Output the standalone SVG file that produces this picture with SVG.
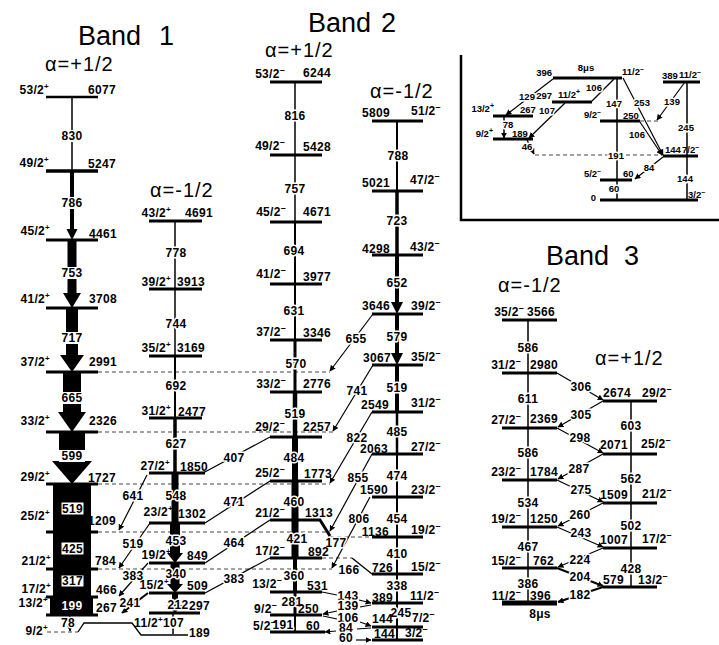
<svg xmlns="http://www.w3.org/2000/svg" width="719" height="645" viewBox="0 0 719 645">
<defs>
<marker id="a" viewBox="0 0 10 10" refX="9" refY="5" markerWidth="6" markerHeight="6" orient="auto" markerUnits="userSpaceOnUse"><path d="M0,0 L10,5 L0,10 z"/></marker>
<style>
.lv{stroke:#000;stroke-width:3;fill:none}
.tr{stroke:#000;fill:none;stroke-width:1.5}
.cn{stroke:#000;fill:none;stroke-width:1.2}
.ds{stroke:#444;stroke-width:1;stroke-dasharray:4 3;fill:none}
text{font-family:"Liberation Sans",Arial,sans-serif}
.t{font-weight:bold;font-size:12px;letter-spacing:0.3px}
.i{font-weight:bold;font-size:9.5px}
.h{stroke:#fff;stroke-width:3;paint-order:stroke;stroke-linejoin:round}
.m{text-anchor:middle}
.e{text-anchor:end}
.ti{font-size:27px}
.al{font-size:20px;letter-spacing:1px}
</style>
</defs>
<rect width="719" height="645" fill="#fff"/>

<g id="titles">
<text class="ti" x="78" y="45">Band</text><text class="ti" x="159" y="45">1</text>
<text class="ti" x="308" y="32">Band</text><text class="ti" x="381" y="32">2</text>
<text class="ti" x="546" y="265">Band</text><text class="ti" x="624" y="265">3</text>
<text class="al" x="45" y="71">α=+1/2</text>
<text class="al" x="150" y="197">α=-1/2</text>
<text class="al" x="265" y="57">α=+1/2</text>
<text class="al" x="370" y="98">α=-1/2</text>
<text class="al" x="498" y="292">α=-1/2</text>
<text class="al" x="595" y="365">α=+1/2</text>
</g>

<g id="dashes">
<path class="ds" d="M98,372H330M98,432H333M98,484H330M98,532H330M98,569H332M330,537H372M322,558H352M47,632H78"/>
<path class="ds" d="M535,155H663M640,121H660"/>
</g>

<g id="connectors">
<!-- Band 1 a+ -->
<line class="tr" x1="72" y1="97" x2="72" y2="171"/>
<polygon points="70,172 74,172 74,229 77.5,229 72,240 66.5,229 70,229"/>
<polygon points="67.5,241 76.5,241 76.5,293 81,293 72,308 63,293 67.5,293"/>
<polygon points="66,309 78,309 78,355 84,355 72,372 60,355 66,355"/>
<polygon points="63,373 81,373 81,412 86,412 72,432 58,412 63,412"/>
<polygon points="59,433 85,433 85,461 92,461 72,484 52,461 59,461"/>
<rect x="53" y="485" width="38" height="46"/>
<rect x="53" y="533" width="38" height="35"/>
<rect x="53" y="570" width="38" height="26"/>
<rect x="50" y="598" width="43" height="16"/>
<line class="tr" x1="70" y1="616" x2="70" y2="631" marker-end="url(#a)"/>
<g fill="#fff"><rect x="59" y="130" width="26" height="12"/><rect x="59" y="197" width="26" height="12"/><rect x="59" y="267" width="26" height="12"/><rect x="59" y="332" width="26" height="12"/><rect x="59" y="392" width="26" height="12"/><rect x="59" y="450" width="26" height="12"/></g>
<g fill="#fff" stroke="#000" stroke-width="1"><rect x="61" y="502" width="23" height="13"/><rect x="61" y="542" width="23" height="13"/><rect x="61" y="575" width="23" height="12"/></g>
<text class="t m" x="72" y="140">830</text>
<text class="t m" x="72" y="207">786</text>
<text class="t m" x="72" y="277">753</text>
<text class="t m" x="72" y="342">717</text>
<text class="t m" x="72" y="402">665</text>
<text class="t m" x="72" y="460">599</text>
<text class="t m" x="72.5" y="513">519</text>
<text class="t m" x="72.5" y="553">425</text>
<text class="t m" x="72.5" y="585">317</text>
<text class="t m" x="72" y="610" fill="#fff">199</text>
<text class="t m h" x="68" y="627">78</text>
<!-- Band 1 a- -->
<line class="tr" x1="175" y1="221" x2="175" y2="289"/>
<line class="tr" x1="175" y1="289" x2="175" y2="356"/>
<line class="tr" x1="175" y1="356" x2="175" y2="418" style="stroke-width:2"/>
<line class="tr" x1="175" y1="418" x2="175" y2="473" style="stroke-width:3.5"/>
<polygon points="171.5,473 178.5,473 178.5,523 171.5,523"/>
<polygon points="170,524 180,524 180,553 183,553 175,563 167,553 170,553"/>
<polygon points="170.5,564 179.5,564 179.5,584 183,584 175,593 167,584 170.5,584"/>
<polygon points="172,594 178,594 178,605 183,605 175,613 167,605 172,605"/>
<line class="tr" x1="173" y1="614" x2="173" y2="634"/>
<text class="t m h" x="176" y="257">778</text>
<text class="t m h" x="176" y="328">744</text>
<text class="t m h" x="176" y="390">692</text>
<text class="t m h" x="176" y="448">627</text>
<text class="t m h" x="176" y="500">548</text>
<text class="t m h" x="176" y="545">453</text>
<text class="t m h" x="176" y="578">340</text>
<text class="t m h" x="178" y="609">212</text>
<text class="t h" x="163" y="627">107</text>
<!-- Band 2 a+ -->
<line class="tr" x1="295" y1="82" x2="295" y2="155"/>
<line class="tr" x1="295" y1="155" x2="295" y2="222"/>
<line class="tr" x1="295" y1="222" x2="295" y2="284" style="stroke-width:2"/>
<line class="tr" x1="295" y1="284" x2="295" y2="340" style="stroke-width:2"/>
<line class="tr" x1="295" y1="340" x2="295" y2="392" style="stroke-width:3"/>
<line class="tr" x1="295" y1="392" x2="295" y2="437" style="stroke-width:4.5"/>
<line class="tr" x1="295" y1="437" x2="295" y2="481" style="stroke-width:6"/>
<line class="tr" x1="295" y1="481" x2="295" y2="520" style="stroke-width:7"/>
<line class="tr" x1="295" y1="520" x2="295" y2="558" style="stroke-width:7"/>
<line class="tr" x1="295" y1="558" x2="295" y2="592" style="stroke-width:4"/>
<line class="tr" x1="295" y1="592" x2="295" y2="615" style="stroke-width:3"/>
<line class="tr" x1="295" y1="615" x2="295" y2="632" style="stroke-width:2"/>
<text class="t m h" x="295" y="120">816</text>
<text class="t m h" x="295" y="193">757</text>
<text class="t m h" x="294" y="255">694</text>
<text class="t m h" x="294" y="315">631</text>
<text class="t m h" x="296" y="368">570</text>
<text class="t m h" x="295" y="418">519</text>
<text class="t m h" x="294" y="462">484</text>
<text class="t m h" x="294" y="506">460</text>
<text class="t m h" x="297" y="543">421</text>
<text class="t m h" x="294" y="580">360</text>
<text class="t m h" x="292" y="606">281</text>
<text class="t m h" x="283" y="629">191</text>
<!-- Band 2 a- -->
<line class="tr" x1="397" y1="121" x2="397" y2="191" style="stroke-width:2"/>
<line class="tr" x1="397" y1="191" x2="397" y2="255" style="stroke-width:3.5"/>
<line class="tr" x1="397" y1="255" x2="397" y2="304" style="stroke-width:4"/>
<polygon points="391,302 403,302 397,314"/>
<line class="tr" x1="397" y1="314" x2="397" y2="355" style="stroke-width:4"/>
<polygon points="391,353 403,353 397,365"/>
<line class="tr" x1="397" y1="365" x2="397" y2="412" style="stroke-width:4"/>
<line class="tr" x1="397" y1="412" x2="397" y2="454" style="stroke-width:2.5"/>
<line class="tr" x1="397" y1="454" x2="397" y2="497" style="stroke-width:2"/>
<line class="tr" x1="397" y1="497" x2="397" y2="537" style="stroke-width:2"/>
<line class="tr" x1="397" y1="537" x2="397" y2="574" style="stroke-width:2"/>
<line class="tr" x1="397" y1="574" x2="397" y2="603" style="stroke-width:2"/>
<line class="tr" x1="397" y1="603" x2="397" y2="627" style="stroke-width:2"/>
<line class="tr" x1="397" y1="627" x2="397" y2="640" style="stroke-width:2"/>
<text class="t m h" x="398" y="160">788</text>
<text class="t m h" x="397" y="225">723</text>
<text class="t m h" x="397" y="287">652</text>
<text class="t m h" x="397" y="341">579</text>
<text class="t m h" x="397" y="392">519</text>
<text class="t m h" x="397" y="436">485</text>
<text class="t m h" x="397" y="480">474</text>
<text class="t m h" x="397" y="523">454</text>
<text class="t m h" x="397" y="558">410</text>
<text class="t m h" x="397" y="590">338</text>
<text class="t m h" x="401" y="617">245</text>
<!-- Band 3 -->
<path class="tr" d="M528,320V373M528,373V428M528,428V480M528,480V527M528,527V568M528,568V603M631,401V454M631,454V503M631,503V548M631,548V587"/>
<text class="t m h" x="528" y="352">586</text>
<text class="t m h" x="528" y="403">611</text>
<text class="t m h" x="528" y="457">586</text>
<text class="t m h" x="528" y="507">534</text>
<text class="t m h" x="528" y="551">467</text>
<text class="t m h" x="528" y="588">386</text>
<text class="t m h" x="631" y="430">603</text>
<text class="t m h" x="631" y="483">562</text>
<text class="t m h" x="631" y="530">502</text>
<text class="t m h" x="631" y="573">428</text>
<g class="cn">
<line x1="557" y1="373" x2="603" y2="400" marker-end="url(#a)"/>
<line x1="603" y1="401" x2="558" y2="427" marker-end="url(#a)"/>
<line x1="557" y1="428" x2="603" y2="453" marker-end="url(#a)"/>
<line x1="603" y1="454" x2="558" y2="479" marker-end="url(#a)"/>
<line x1="557" y1="480" x2="603" y2="502" marker-end="url(#a)"/>
<line x1="603" y1="503" x2="558" y2="526" marker-end="url(#a)"/>
<line x1="557" y1="527" x2="603" y2="547" marker-end="url(#a)"/>
<line x1="603" y1="548" x2="558" y2="567" marker-end="url(#a)"/>
<line x1="557" y1="568" x2="603" y2="586" marker-end="url(#a)" style="stroke-width:2"/>
<line x1="603" y1="587" x2="558" y2="602" marker-end="url(#a)" style="stroke-width:2"/>
</g>
<text class="t m h" x="581" y="391">306</text>
<text class="t m h" x="581" y="419">305</text>
<text class="t m h" x="580" y="442">298</text>
<text class="t m h" x="579" y="473">287</text>
<text class="t m h" x="581" y="494">275</text>
<text class="t m h" x="580" y="519">260</text>
<text class="t m h" x="581" y="537">243</text>
<text class="t m h" x="580" y="564">224</text>
<text class="t m h" x="580" y="581">204</text>
<text class="t m h" x="580" y="599">182</text>
<!-- inter-band -->
<g class="cn">
<line x1="147" y1="475" x2="119" y2="530" marker-end="url(#a)"/>
<line x1="150" y1="523" x2="119" y2="568" marker-end="url(#a)"/>
<line x1="148" y1="563" x2="119" y2="596" marker-end="url(#a)"/>
<line x1="148" y1="593" x2="122" y2="613" marker-end="url(#a)" style="stroke-width:2"/>
<line x1="203" y1="473" x2="270" y2="437"/>
<line x1="205" y1="523" x2="270" y2="481"/>
<line x1="205" y1="563" x2="270" y2="520"/>
<line x1="205" y1="593" x2="270" y2="558"/>
<line x1="373" y1="314" x2="330" y2="371" marker-end="url(#a)"/>
<line x1="373" y1="365" x2="333" y2="431" marker-end="url(#a)"/>
<line x1="372" y1="412" x2="330" y2="483" marker-end="url(#a)"/>
<line x1="372" y1="454" x2="330" y2="531" marker-end="url(#a)"/>
<line x1="370" y1="497" x2="332" y2="568" marker-end="url(#a)"/>
<polyline points="322,592 337,595"/>
<line x1="359" y1="600" x2="371" y2="603" marker-end="url(#a)"/>
<line x1="371" y1="605" x2="360" y2="607"/>
<line x1="337" y1="611" x2="323" y2="614" marker-end="url(#a)"/>
<line x1="323" y1="616" x2="337" y2="619"/>
<line x1="360" y1="622" x2="371" y2="626" marker-end="url(#a)"/>
<line x1="371" y1="628" x2="357" y2="629"/>
<line x1="336" y1="631" x2="325" y2="632" marker-end="url(#a)"/>
<line x1="356" y1="640" x2="371" y2="640" marker-end="url(#a)"/>
</g>
<text class="t m h" x="133" y="500">641</text>
<text class="t m h" x="133" y="548">519</text>
<text class="t m h" x="133" y="580">383</text>
<text class="t m h" x="130" y="607">241</text>
<text class="t m h" x="234" y="462">407</text>
<text class="t m h" x="234" y="506">471</text>
<text class="t m h" x="234" y="547">464</text>
<text class="t m h" x="234" y="583">383</text>
<text class="t m h" x="356" y="343">655</text>
<text class="t m h" x="357" y="395">741</text>
<text class="t m h" x="357" y="442">822</text>
<text class="t m h" x="358" y="482">855</text>
<text class="t m h" x="359" y="523">806</text>
<text class="t m h" x="336" y="547">177</text>
<text class="t m h" x="349" y="574">166</text>
<text class="t m h" x="348" y="600">143</text>
<text class="t m h" x="348" y="610">139</text>
<text class="t m h" x="348" y="622">106</text>
<text class="t m h" x="346" y="632">84</text>
<text class="t m h" x="346" y="642">60</text>
<!-- inset transitions -->
<path class="tr" d="M617,78V121M617,121V180M617,180V200M687,82V156M687,156V200"/>
<line class="tr" x1="504" y1="116" x2="504" y2="138" marker-end="url(#a)"/>
<g class="cn">
<line x1="553" y1="79" x2="506" y2="115" marker-end="url(#a)"/>
<line x1="592" y1="101" x2="614" y2="79"/>
<line x1="565" y1="103" x2="529" y2="138" marker-end="url(#a)"/>
<line x1="623" y1="78" x2="663" y2="155" marker-end="url(#a)"/>
<line x1="685" y1="82" x2="657" y2="120" marker-end="url(#a)"/>
<line x1="640" y1="122" x2="662" y2="155" marker-end="url(#a)"/>
<line x1="663" y1="157" x2="635" y2="179" marker-end="url(#a)"/>
<line x1="527" y1="140" x2="534" y2="154" marker-end="url(#a)"/>
</g>
<text class="i m h" x="527" y="100">129</text>
<text class="i m h" x="594" y="91">106</text>
<text class="i m h" x="547" y="114">107</text>
<text class="i m h" x="642" y="106">253</text>
<text class="i m h" x="672" y="105">139</text>
<text class="i m h" x="637" y="138">106</text>
<text class="i m h" x="649" y="171">84</text>
<text class="i m h" x="527" y="150">46</text>
<text class="i m h" x="508" y="128">78</text>
<text class="i m h" x="614" y="107">147</text>
<text class="i m h" x="616" y="159">191</text>
<text class="i m h" x="614" y="192">60</text>
<text class="i m h" x="686" y="131">245</text>
<text class="i m h" x="685" y="182">144</text>
</g>

<!-- Band 1 a=+1/2 levels -->
<g id="b1p-53"><line class="lv" x1="46" y1="97" x2="98" y2="97" style="stroke-width:2.5"/><text class="t e" x="49" y="94">53/2<tspan dy="-5" font-size="8">+</tspan></text><text class="t e" x="116" y="94">6077</text></g>
<g id="b1p-49"><line class="lv" x1="46" y1="171" x2="98" y2="171" style="stroke-width:3.5"/><text class="t e" x="49" y="167">49/2<tspan dy="-5" font-size="8">+</tspan></text><text class="t e" x="116" y="168">5247</text></g>
<g id="b1p-45"><line class="lv" x1="46" y1="240" x2="98" y2="240"/><text class="t e" x="50" y="235">45/2<tspan dy="-5" font-size="8">+</tspan></text><text class="t e" x="117" y="238">4461</text></g>
<g id="b1p-41"><line class="lv" x1="46" y1="308" x2="98" y2="308"/><text class="t e" x="50" y="303">41/2<tspan dy="-5" font-size="8">+</tspan></text><text class="t e" x="117" y="303">3708</text></g>
<g id="b1p-37"><line class="lv" x1="46" y1="372" x2="98" y2="372"/><text class="t e" x="50" y="366">37/2<tspan dy="-5" font-size="8">+</tspan></text><text class="t e" x="117" y="366">2991</text></g>
<g id="b1p-33"><line class="lv" x1="46" y1="432" x2="98" y2="432"/><text class="t e" x="50" y="425">33/2<tspan dy="-5" font-size="8">+</tspan></text><text class="t e" x="117" y="425">2326</text></g>
<g id="b1p-29"><line class="lv" x1="46" y1="484" x2="98" y2="484"/><text class="t e" x="50" y="481">29/2<tspan dy="-5" font-size="8">+</tspan></text><text class="t e" x="116" y="482">1727</text></g>
<g id="b1p-25"><line class="lv" x1="46" y1="532" x2="98" y2="532"/><text class="t e" x="50" y="520">25/2<tspan dy="-5" font-size="8">+</tspan></text><text class="t e" x="116" y="525">1209</text></g>
<g id="b1p-21"><line class="lv" x1="46" y1="569" x2="98" y2="569"/><text class="t e" x="51" y="565">21/2<tspan dy="-5" font-size="8">+</tspan></text><text class="t e" x="116" y="565">784</text></g>
<g id="b1p-17"><line class="lv" x1="46" y1="597" x2="98" y2="597"/><text class="t e" x="51" y="593">17/2<tspan dy="-5" font-size="8">+</tspan></text><text class="t e" x="117" y="594">466</text></g>
<g id="b1p-13"><line class="lv" x1="46" y1="615" x2="98" y2="615"/><text class="t e" x="48" y="607">13/2<tspan dy="-5" font-size="8">+</tspan></text><text class="t e" x="117" y="612">267</text></g>
<g id="b1p-9"><polyline class="lv" style="stroke-width:1.3" points="78,632 84,623 132,623 141,635 188,635"/><text class="t e" x="48" y="635">9/2<tspan dy="-5" font-size="8">+</tspan></text><text class="t" x="189" y="637">189</text></g>

<!-- Band 1 a=-1/2 levels -->
<g id="b1m-43"><line class="lv" x1="149" y1="221" x2="202" y2="221"/><text class="t e" x="171" y="217">43/2<tspan dy="-5" font-size="8">+</tspan></text><text class="t" x="185" y="217">4691</text></g>
<g id="b1m-39"><line class="lv" x1="149" y1="289" x2="202" y2="289"/><text class="t e" x="171" y="286">39/2<tspan dy="-5" font-size="8">+</tspan></text><text class="t" x="177" y="286">3913</text></g>
<g id="b1m-35"><line class="lv" x1="149" y1="356" x2="202" y2="356"/><text class="t e" x="171" y="352">35/2<tspan dy="-5" font-size="8">+</tspan></text><text class="t" x="177" y="352">3169</text></g>
<g id="b1m-31"><line class="lv" x1="149" y1="418" x2="202" y2="418"/><text class="t e" x="171" y="415">31/2<tspan dy="-5" font-size="8">+</tspan></text><text class="t" x="178" y="416">2477</text></g>
<g id="b1m-27"><line class="lv" x1="149" y1="473" x2="205" y2="473"/><text class="t e" x="170" y="470">27/2<tspan dy="-5" font-size="8">+</tspan></text><text class="t" x="180" y="471">1850</text></g>
<g id="b1m-23"><line class="lv" x1="149" y1="523" x2="205" y2="523"/><text class="t e" x="173" y="516">23/2<tspan dy="-5" font-size="8">+</tspan></text><text class="t" x="178" y="518">1302</text></g>
<g id="b1m-19"><line class="lv" x1="149" y1="563" x2="205" y2="563"/><text class="t e" x="171" y="559">19/2<tspan dy="-5" font-size="8">+</tspan></text><text class="t" x="187" y="560">849</text></g>
<g id="b1m-15"><line class="lv" x1="149" y1="593" x2="205" y2="593"/><text class="t e" x="169" y="589">15/2<tspan dy="-5" font-size="8">+</tspan></text><text class="t" x="187" y="590">509</text></g>
<g id="b1m-11"><line class="lv" x1="149" y1="613" x2="200" y2="613"/><text class="t" x="189" y="610">297</text><text class="t e" x="163" y="627">11/2<tspan dy="-5" font-size="8">+</tspan></text></g>

<!-- Band 2 a=+1/2 levels -->
<g id="b2p-53"><line class="lv" x1="270" y1="82" x2="322" y2="82"/><text class="t e" x="285" y="78">53/2<tspan dy="-5" font-size="9">–</tspan></text><text class="t" x="303" y="77">6244</text></g>
<g id="b2p-49"><line class="lv" x1="270" y1="155" x2="322" y2="155"/><text class="t e" x="285" y="150">49/2<tspan dy="-5" font-size="9">–</tspan></text><text class="t" x="303" y="151">5428</text></g>
<g id="b2p-45"><line class="lv" x1="270" y1="222" x2="322" y2="222"/><text class="t e" x="286" y="216">45/2<tspan dy="-5" font-size="9">–</tspan></text><text class="t" x="303" y="216">4671</text></g>
<g id="b2p-41"><line class="lv" x1="270" y1="284" x2="322" y2="284"/><text class="t e" x="286" y="278">41/2<tspan dy="-5" font-size="9">–</tspan></text><text class="t" x="303" y="281">3977</text></g>
<g id="b2p-37"><line class="lv" x1="270" y1="340" x2="322" y2="340"/><text class="t e" x="286" y="336">37/2<tspan dy="-5" font-size="9">–</tspan></text><text class="t" x="303" y="337">3346</text></g>
<g id="b2p-33"><line class="lv" x1="270" y1="392" x2="322" y2="392"/><text class="t e" x="286" y="388">33/2<tspan dy="-5" font-size="9">–</tspan></text><text class="t" x="303" y="388">2776</text></g>
<g id="b2p-29"><line class="lv" x1="270" y1="437" x2="322" y2="437"/><text class="t e" x="285" y="431">29/2<tspan dy="-5" font-size="9">–</tspan></text><text class="t" x="303" y="431">2257</text></g>
<g id="b2p-25"><line class="lv" x1="270" y1="481" x2="322" y2="481"/><text class="t e" x="285" y="477">25/2<tspan dy="-5" font-size="9">–</tspan></text><text class="t" x="304" y="478">1773</text></g>
<g id="b2p-21"><polyline class="lv" points="270,520 320,520 330,536"/><text class="t e" x="285" y="517">21/2<tspan dy="-5" font-size="9">–</tspan></text><text class="t" x="305" y="517">1313</text></g>
<g id="b2p-17"><line class="lv" x1="270" y1="558" x2="322" y2="558"/><polyline class="lv" style="stroke-width:1.5" points="352,558 372,574"/><text class="t e" x="285" y="555">17/2<tspan dy="-5" font-size="9">–</tspan></text><text class="t" x="308" y="556">892</text></g>
<g id="b2p-13"><line class="lv" x1="270" y1="592" x2="322" y2="592"/><text class="t e" x="282" y="588">13/2<tspan dy="-5" font-size="9">–</tspan></text><text class="t" x="307" y="590">531</text></g>
<g id="b2p-9"><line class="lv" x1="270" y1="615" x2="322" y2="615"/><text class="t e" x="277" y="613">9/2<tspan dy="-5" font-size="9">–</tspan></text><text class="t" x="298" y="613">250</text></g>
<g id="b2p-5"><line class="lv" x1="270" y1="632" x2="325" y2="632"/><text class="t e" x="276" y="630">5/2<tspan dy="-5" font-size="9">–</tspan></text><text class="t" x="306" y="630">60</text></g>

<!-- Band 2 a=-1/2 levels -->
<g id="b2m-51"><line class="lv" x1="372" y1="121" x2="423" y2="121"/><text class="t e" x="390" y="117">5809</text><text class="t" x="411" y="115">51/2<tspan dy="-5" font-size="9">–</tspan></text></g>
<g id="b2m-47"><line class="lv" x1="372" y1="191" x2="423" y2="191"/><text class="t e" x="390" y="187">5021</text><text class="t" x="410" y="184">47/2<tspan dy="-5" font-size="9">–</tspan></text></g>
<g id="b2m-43"><line class="lv" x1="372" y1="255" x2="423" y2="255"/><text class="t e" x="390" y="253">4298</text><text class="t" x="410" y="251">43/2<tspan dy="-5" font-size="9">–</tspan></text></g>
<g id="b2m-39"><line class="lv" x1="372" y1="314" x2="423" y2="314"/><text class="t e" x="390" y="310">3646</text><text class="t" x="411" y="310">39/2<tspan dy="-5" font-size="9">–</tspan></text></g>
<g id="b2m-35"><line class="lv" x1="372" y1="365" x2="423" y2="365"/><text class="t e" x="391" y="362">3067</text><text class="t" x="411" y="361">35/2<tspan dy="-5" font-size="9">–</tspan></text></g>
<g id="b2m-31"><line class="lv" x1="372" y1="412" x2="423" y2="412"/><text class="t e" x="389" y="409">2549</text><text class="t" x="411" y="407">31/2<tspan dy="-5" font-size="9">–</tspan></text></g>
<g id="b2m-27"><line class="lv" x1="372" y1="454" x2="423" y2="454"/><text class="t e" x="388" y="453">2063</text><text class="t" x="411" y="451">27/2<tspan dy="-5" font-size="9">–</tspan></text></g>
<g id="b2m-23"><line class="lv" x1="372" y1="497" x2="423" y2="497"/><text class="t e" x="388" y="494">1590</text><text class="t" x="411" y="494">23/2<tspan dy="-5" font-size="9">–</tspan></text></g>
<g id="b2m-19"><line class="lv" x1="372" y1="537" x2="423" y2="537"/><text class="t e" x="389" y="536">1136</text><text class="t" x="411" y="534">19/2<tspan dy="-5" font-size="9">–</tspan></text></g>
<g id="b2m-15"><line class="lv" x1="372" y1="574" x2="423" y2="574"/><text class="t" x="372" y="572">726</text><text class="t" x="411" y="571">15/2<tspan dy="-5" font-size="9">–</tspan></text></g>
<g id="b2m-11"><line class="lv" x1="372" y1="603" x2="423" y2="603"/><text class="t" x="372" y="602">389</text><text class="t" x="410" y="600">11/2<tspan dy="-5" font-size="9">–</tspan></text></g>
<g id="b2m-7"><line class="lv" x1="372" y1="627" x2="423" y2="627"/><text class="t" x="372" y="623">144</text><text class="t" x="412" y="622">7/2<tspan dy="-5" font-size="9">–</tspan></text></g>
<g id="b2m-3"><line class="lv" x1="372" y1="640" x2="423" y2="640"/><text class="t" x="374" y="638">144</text><text class="t" x="405" y="637">3/2<tspan dy="-5" font-size="9">–</tspan></text></g>

<!-- Inset -->
<g id="inset-frame"><path d="M461,55V220H719" fill="none" stroke="#000" stroke-width="2.5"/></g>
<g id="in-396"><line class="lv" x1="553" y1="78" x2="622" y2="78"/><text class="i e" x="552" y="76">396</text><text class="i" x="622" y="75">11/2<tspan dy="-4" font-size="7">–</tspan></text><text class="i m" x="586" y="71" font-size="10.5">8μs</text></g>
<g id="in-389"><line class="lv" x1="663" y1="82" x2="700" y2="82"/><text class="i" x="662" y="79">389</text><text class="i" x="679" y="78">11/2<tspan dy="-4" font-size="7">–</tspan></text></g>
<g id="in-297"><line class="lv" x1="552" y1="102" x2="592" y2="102"/><text class="i e" x="552" y="99">297</text><text class="i" x="558" y="98">11/2<tspan dy="-4" font-size="7">+</tspan></text></g>
<g id="in-267"><line class="lv" x1="493" y1="116" x2="533" y2="116"/><text class="i e" x="494" y="112">13/2<tspan dy="-4" font-size="7">+</tspan></text><text class="i" x="520" y="113">267</text></g>
<g id="in-189"><line class="lv" x1="493" y1="139" x2="533" y2="139"/><text class="i e" x="493" y="137">9/2<tspan dy="-4" font-size="7">+</tspan></text><text class="i" x="512" y="137">189</text></g>
<g id="in-250"><line class="lv" x1="600" y1="121" x2="640" y2="121"/><text class="i e" x="601" y="118">9/2<tspan dy="-4" font-size="7">–</tspan></text><text class="i" x="623" y="119">250</text></g>
<g id="in-144"><line class="lv" x1="663" y1="156" x2="698" y2="156"/><text class="i" x="665" y="153">144</text><text class="i" x="682" y="153">7/2<tspan dy="-4" font-size="7">–</tspan></text></g>
<g id="in-60"><line class="lv" x1="600" y1="180" x2="632" y2="180"/><text class="i e" x="601" y="177">5/2<tspan dy="-4" font-size="7">–</tspan></text><text class="i" x="623" y="177">60</text></g>
<g id="in-0"><line class="lv" x1="600" y1="200" x2="698" y2="200"/><text class="i e" x="596" y="201">0</text><text class="i" x="688" y="198">3/2<tspan dy="-4" font-size="7">–</tspan></text></g>

<!-- Band 3 a=-1/2 -->
<g id="b3m-35"><line class="lv" x1="502" y1="320" x2="557" y2="320"/><text class="t e" x="524" y="316">35/2<tspan dy="-5" font-size="9">–</tspan></text><text class="t" x="527" y="316">3566</text></g>
<g id="b3m-31"><line class="lv" x1="502" y1="373" x2="557" y2="373"/><text class="t e" x="521" y="369">31/2<tspan dy="-5" font-size="9">–</tspan></text><text class="t" x="530" y="369">2980</text></g>
<g id="b3m-27"><line class="lv" x1="502" y1="428" x2="557" y2="428"/><text class="t e" x="521" y="424">27/2<tspan dy="-5" font-size="9">–</tspan></text><text class="t" x="530" y="423">2369</text></g>
<g id="b3m-23"><line class="lv" x1="502" y1="480" x2="557" y2="480"/><text class="t e" x="521" y="476">23/2<tspan dy="-5" font-size="9">–</tspan></text><text class="t" x="530" y="476">1784</text></g>
<g id="b3m-19"><line class="lv" x1="502" y1="527" x2="557" y2="527"/><text class="t e" x="521" y="523">19/2<tspan dy="-5" font-size="9">–</tspan></text><text class="t" x="530" y="523">1250</text></g>
<g id="b3m-15"><line class="lv" x1="502" y1="568" x2="557" y2="568"/><text class="t e" x="521" y="565">15/2<tspan dy="-5" font-size="9">–</tspan></text><text class="t" x="533" y="565">762</text></g>
<g id="b3m-11"><line class="lv" x1="502" y1="603" x2="557" y2="603" style="stroke-width:5"/><text class="t e" x="521" y="600">11/2<tspan dy="-5" font-size="9">–</tspan></text><text class="t" x="530" y="600">396</text><text class="t m" x="540" y="618">8μs</text></g>
<!-- Band 3 a=+1/2 -->
<g id="b3p-29"><line class="lv" x1="603" y1="401" x2="657" y2="401"/><text class="t" x="603" y="397">2674</text><text class="t" x="642" y="397">29/2<tspan dy="-5" font-size="9">–</tspan></text></g>
<g id="b3p-25"><line class="lv" x1="603" y1="454" x2="657" y2="454"/><text class="t" x="600" y="449">2071</text><text class="t" x="641" y="448">25/2<tspan dy="-5" font-size="9">–</tspan></text></g>
<g id="b3p-21"><line class="lv" x1="603" y1="503" x2="657" y2="503"/><text class="t" x="600" y="499">1509</text><text class="t" x="642" y="498">21/2<tspan dy="-5" font-size="9">–</tspan></text></g>
<g id="b3p-17"><line class="lv" x1="603" y1="548" x2="657" y2="548"/><text class="t" x="600" y="544">1007</text><text class="t" x="642" y="543">17/2<tspan dy="-5" font-size="9">–</tspan></text></g>
<g id="b3p-13"><line class="lv" x1="603" y1="587" x2="657" y2="587"/><text class="t" x="603" y="584">579</text><text class="t" x="638" y="584">13/2<tspan dy="-5" font-size="9">–</tspan></text></g>
</svg>
